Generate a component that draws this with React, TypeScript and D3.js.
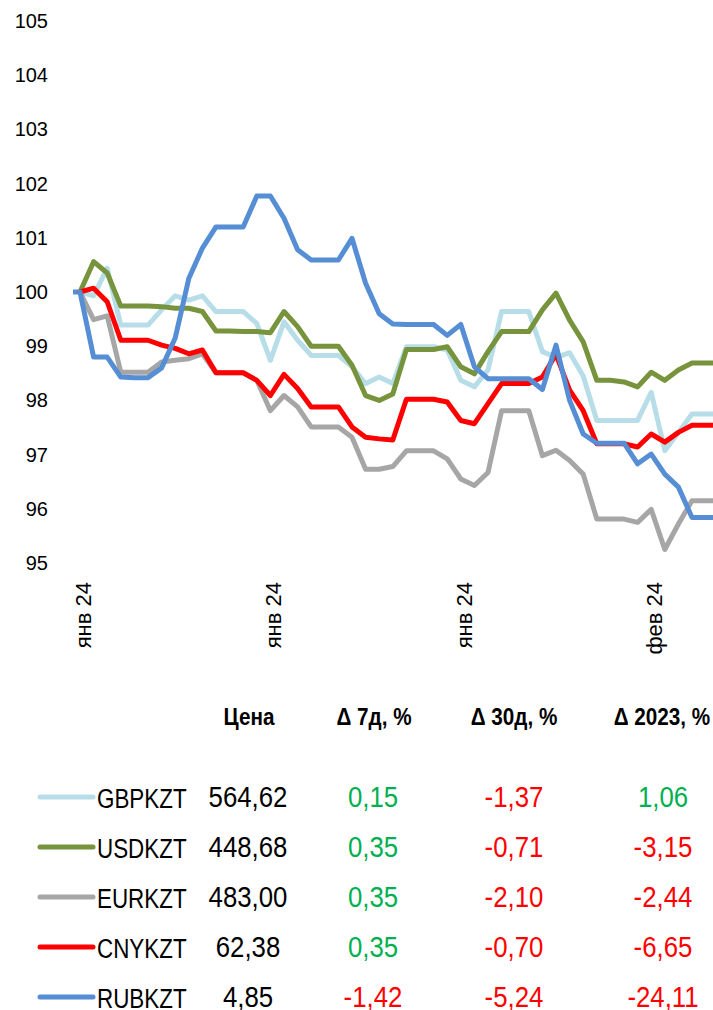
import React from "react";
import * as d3 from "d3";

const yTicks = [95, 96, 97, 98, 99, 100, 101, 102, 103, 104, 105];
const xTickIdx = [0, 14, 28, 42];
const xTickLabels = ["янв 24", "янв 24", "янв 24", "фев 24"];

const GBP = [100, 99.93, 100.44, 99.39, 99.39, 99.39, 99.67, 99.93, 99.85, 99.93, 99.64, 99.64, 99.64, 99.42, 98.74, 99.45, 99.11, 98.83, 98.83, 98.83, 98.62, 98.31, 98.43, 98.31, 98.99, 98.99, 98.99, 98.93, 98.37, 98.25, 98.56, 99.64, 99.64, 99.64, 98.9, 98.79, 98.88, 98.45, 97.63, 97.63, 97.63, 97.63, 98.15, 97.07, 97.41, 97.75, 97.75, 97.75];
const USD = [100, 100.56, 100.35, 99.74, 99.74, 99.74, 99.73, 99.7, 99.7, 99.64, 99.28, 99.28, 99.27, 99.27, 99.25, 99.64, 99.36, 99.0, 99.0, 99.0, 98.65, 98.09, 98.0, 98.12, 98.94, 98.94, 98.94, 98.99, 98.62, 98.49, 98.9, 99.27, 99.27, 99.27, 99.67, 99.98, 99.48, 99.08, 98.37, 98.37, 98.34, 98.25, 98.52, 98.37, 98.56, 98.69, 98.69, 98.69];
const EUR = [100, 99.49, 99.56, 98.52, 98.52, 98.52, 98.71, 98.74, 98.77, 98.86, 98.51, 98.51, 98.51, 98.37, 97.81, 98.09, 97.88, 97.51, 97.51, 97.51, 97.32, 96.73, 96.73, 96.78, 97.07, 97.07, 97.07, 96.92, 96.55, 96.43, 96.67, 97.81, 97.81, 97.81, 96.98, 97.08, 96.89, 96.64, 95.81, 95.81, 95.81, 95.75, 95.99, 95.25, 95.72, 96.15, 96.15, 96.15];
const CNY = [100, 100.07, 99.82, 99.11, 99.11, 99.11, 99.02, 98.96, 98.86, 98.93, 98.51, 98.51, 98.51, 98.37, 98.09, 98.48, 98.22, 97.88, 97.88, 97.88, 97.51, 97.32, 97.29, 97.27, 98.02, 98.02, 98.02, 97.97, 97.63, 97.57, 97.94, 98.31, 98.31, 98.31, 98.43, 98.85, 98.19, 97.81, 97.2, 97.2, 97.2, 97.14, 97.38, 97.23, 97.41, 97.54, 97.54, 97.54];
const RUB = [100, 98.8, 98.8, 98.43, 98.42, 98.42, 98.6, 99.15, 100.25, 100.81, 101.2, 101.2, 101.2, 101.77, 101.77, 101.36, 100.78, 100.59, 100.59, 100.59, 100.99, 100.16, 99.6, 99.41, 99.4, 99.4, 99.4, 99.2, 99.4, 98.62, 98.4, 98.4, 98.4, 98.4, 98.2, 99.02, 98.0, 97.38, 97.21, 97.21, 97.21, 96.83, 97.01, 96.64, 96.4, 95.84, 95.84, 95.84];

const seriesNames = ["GBPKZT", "USDKZT", "EURKZT", "CNYKZT", "RUBKZT"];
const seriesColors = ["#B7DEE8", "#77933C", "#A6A6A6", "#FF0000", "#558ED5"];
const seriesData = [GBP, USD, EUR, CNY, RUB];

const headers = ["Цена", "Δ 7д, %", "Δ 30д, %", "Δ 2023, %"];
const prices = ["564,62", "448,68", "483,00", "62,38", "4,85"];
const d7 = ["0,15", "0,35", "0,35", "0,35", "-1,42"];
const d30 = ["-1,37", "-0,71", "-2,10", "-0,70", "-5,24"];
const dYtd = ["1,06", "-3,15", "-2,44", "-6,65", "-24,11"];

const W = 713;
const H = 1010;
const FONT = "'Liberation Sans', Arial, sans-serif";
const GREEN = "#00B050";
const RED = "#FF0000";

function NText(props: {
  x: number;
  y: number;
  sx: number;
  size: number;
  anchor?: string;
  fill?: string;
  bold?: boolean;
  children: React.ReactNode;
}) {
  return (
    <text
      transform={`translate(${props.x},${props.y}) scale(${props.sx},1)`}
      textAnchor={props.anchor || "start"}
      fontFamily={FONT}
      fontSize={props.size}
      fontWeight={props.bold ? "bold" : "normal"}
      fill={props.fill || "#000"}
    >
      {props.children}
    </text>
  );
}

export default function App() {
  const x = d3.scaleLinear().domain([0, 47]).range([80, 80 + 47 * 13.6]);
  const y = d3.scaleLinear().domain([95, 105]).range([563, 21]);
  const line = d3
    .line<number>()
    .x((_, i) => x(i))
    .y((d) => y(d));

  const colX = [248, 373, 514, 663];
  const headX = [249, 374, 514, 662];
  const rowY = [807, 857, 907, 957, 1007];
  const valColor = (s: string) => (s.startsWith("-") ? RED : GREEN);

  return (
    <svg
      width={W}
      height={H}
      style={{ position: "absolute", left: 0, top: 0, background: "#fff" }}
    >
      <defs>
        <clipPath id="plot">
          <rect x={0} y={0} width={W} height={600} />
        </clipPath>
      </defs>
      {yTicks.map((t) => (
        <text
          key={t}
          x={48}
          y={y(t)}
          dy="0.35em"
          textAnchor="end"
          fontFamily={FONT}
          fontSize={20}
          fill="#000"
        >
          {t}
        </text>
      ))}
      {xTickIdx.map((idx, k) => (
        <text
          key={k}
          transform={`translate(${x(idx) + 3},582) rotate(-90)`}
          dy="0.35em"
          textAnchor="end"
          fontFamily={FONT}
          fontSize={22}
          fill="#000"
        >
          {xTickLabels[k]}
        </text>
      ))}
      <g clipPath="url(#plot)">
        <line x1={73} x2={x(0)} y1={y(100)} y2={y(100)} stroke={seriesColors[4]} strokeWidth={5} />
        {seriesData.map((s, k) => (
          <path
            key={k}
            d={line(s) || ""}
            fill="none"
            stroke={seriesColors[k]}
            strokeWidth={5}
            strokeLinejoin="round"
            strokeLinecap="round"
          />
        ))}
      </g>
      {headers.map((h, k) => (
        <NText key={h} x={headX[k]} y={725} sx={0.88} size={23.5} anchor="middle" bold>
          {h}
        </NText>
      ))}
      {seriesNames.map((n, r) => (
        <g key={n}>
          <line
            x1={40}
            x2={93}
            y1={rowY[r] - 10}
            y2={rowY[r] - 10}
            stroke={seriesColors[r]}
            strokeWidth={5}
            strokeLinecap="round"
          />
          <NText x={97} y={rowY[r] + 1} sx={0.8} size={28}>
            {n}
          </NText>
          <NText x={colX[0]} y={rowY[r]} sx={0.86} size={30} anchor="middle">
            {prices[r]}
          </NText>
          <NText x={colX[1]} y={rowY[r]} sx={0.86} size={30} anchor="middle" fill={valColor(d7[r])}>
            {d7[r]}
          </NText>
          <NText x={colX[2]} y={rowY[r]} sx={0.86} size={30} anchor="middle" fill={valColor(d30[r])}>
            {d30[r]}
          </NText>
          <NText x={colX[3]} y={rowY[r]} sx={0.86} size={30} anchor="middle" fill={valColor(dYtd[r])}>
            {dYtd[r]}
          </NText>
        </g>
      ))}
    </svg>
  );
}
